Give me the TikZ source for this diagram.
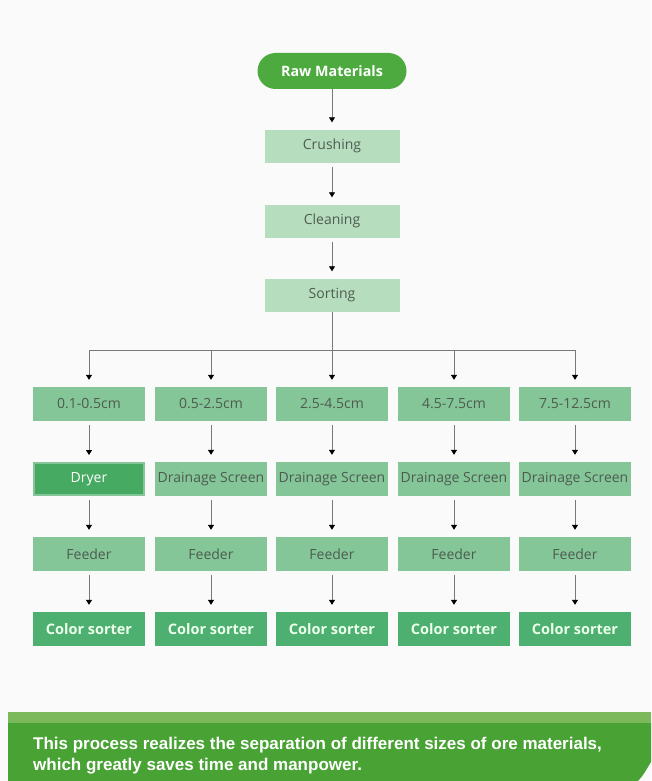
\documentclass[tikz,border=0pt]{standalone}
\usepackage{fontspec}
\setmainfont{Open Sans}
\newfontfamily\bannerfont{Liberation Sans}
\usetikzlibrary{arrows.meta}
\definecolor{rawgreen}{RGB}{76,170,62}
\definecolor{palegreen}{RGB}{182,222,190}
\definecolor{midgreen}{RGB}{132,198,152}
\definecolor{deepgreen}{RGB}{70,170,98}
\definecolor{sortgreen}{RGB}{78,176,112}
\definecolor{boxtext}{RGB}{78,92,80}
\definecolor{bandlight}{RGB}{124,184,92}
\definecolor{banddark}{RGB}{72,162,52}
\definecolor{linegray}{RGB}{120,120,120}
\begin{document}
\begin{tikzpicture}[x=1pt,y=-1pt,
    stagebox/.style={fill=palegreen,minimum width=135pt,minimum height=33pt,
      font=\fontsize{14}{16}\selectfont,text=boxtext,inner sep=0pt},
    sizebox/.style={fill=midgreen,minimum width=112pt,minimum height=34pt,
      font=\fontsize{14}{16}\selectfont,text=boxtext,inner sep=0pt},
    dryerbox/.style={fill=deepgreen,draw=midgreen,line width=2pt,minimum width=110pt,
      minimum height=32pt,font=\fontsize{14}{16}\selectfont,text=white,inner sep=0pt},
    sorterbox/.style={fill=sortgreen,minimum width=112pt,minimum height=34pt,
      font=\bfseries\fontsize{14.5}{16}\selectfont,text=white!92!green,inner sep=0pt},
    flow/.style={draw=linegray,line width=0.8pt,
      -{Triangle[width=6pt,length=5pt,black]},shorten >=7pt,shorten <=4pt}]
  \useasboundingbox[fill=white!98!black] (0,0) rectangle (651,781);
  % top of the flow
  \node[fill=rawgreen,rounded corners=18pt,minimum width=149pt,minimum height=36pt,
    font=\bfseries\fontsize{14.3}{16}\selectfont,text=white] (raw) at (332,71) {Raw Materials};
  \node[stagebox] (crush) at (332,146) {Crushing};
  \node[stagebox] (clean) at (332,221) {Cleaning};
  \node[stagebox] (sort) at (332,295) {Sorting};
  \draw[flow,shorten <=0pt] (raw) -- (crush);
  \draw[flow] (crush) -- (clean);
  \draw[flow] (clean) -- (sort);
  % sorting bus
  \coordinate (busl) at (90,350);
  \coordinate (busr) at (575,350);
  \draw[draw=linegray,line width=0.8pt] (sort.south) -- (332,350);
  \draw[draw=linegray,line width=0.8pt] (busl) -- (busr);
  % the five size lines
  \foreach \i/\xx/\size in {1/89/0.1-0.5cm,2/211/0.5-2.5cm,3/332/2.5-4.5cm,4/454/4.5-7.5cm,5/575/7.5-12.5cm}{
    \node[sizebox] (size\i) at (\xx,404) {\size};
    \coordinate (drop\i) at (\xx,350);
    \draw[flow,shorten <=0pt] (drop\i) -- (size\i);
    \node[sizebox] (feed\i) at (\xx,554) {Feeder};
    \node[sorterbox] (color\i) at (\xx,629) {Color sorter};
    \draw[flow] (feed\i) -- (color\i);
  }
  \node[dryerbox] (treat1) at (89,479) {Dryer};
  \foreach \i/\xx in {2/211,3/332,4/454,5/575}{
    \node[sizebox] (treat\i) at (\xx,479) {Drainage Screen};
  }
  \foreach \i in {1,...,5}{
    \draw[flow] (size\i) -- (treat\i);
    \draw[flow] (treat\i) -- (feed\i);
  }
  % banner
  \fill[bandlight] (8,712) rectangle (651,724);
  \fill[banddark] (8,723) -- (651,723) -- (651,762) .. controls (646,770) and (643,776) .. (638,781) -- (8,781) -- cycle;
  \node[anchor=north west,align=left,text=white,inner sep=0pt,
    font=\bannerfont\bfseries\fontsize{17}{21}\selectfont] (note) at (33,737)
    {This process realizes the separation of different sizes of ore materials,\\
     which greatly saves time and manpower.};
\end{tikzpicture}
\end{document}
